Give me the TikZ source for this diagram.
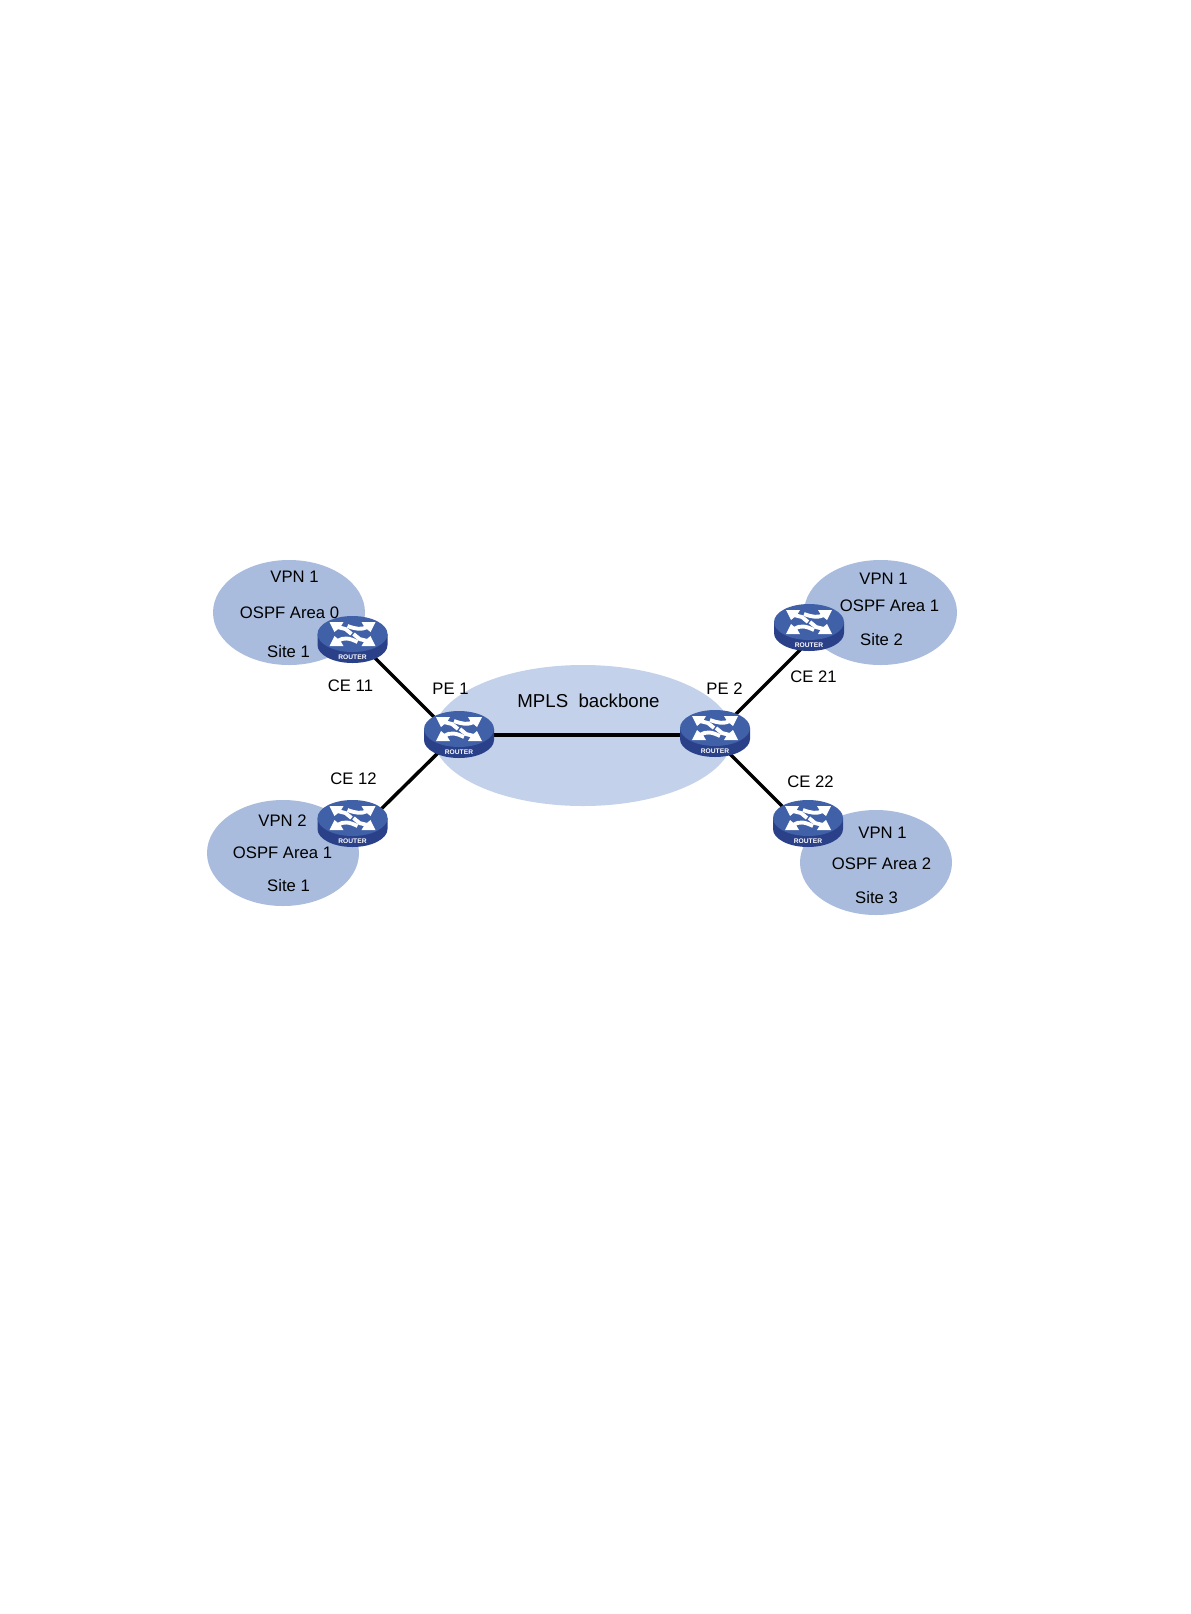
\documentclass[tikz,border=0pt]{standalone}
\usepackage{fontspec}
\setmainfont{Liberation Sans}
\definecolor{sitefill}{HTML}{A9BCDD}
\definecolor{corefill}{HTML}{C4D1EA}
\definecolor{rtop}{HTML}{4060A8}
\definecolor{rside}{HTML}{2A4088}
\tikzset{
  x=0.75pt,y=-0.75pt,
  link/.style={draw=black,line width=2.6pt},
  lab/.style={font=\fontsize{12.5}{14}\selectfont,inner sep=0pt,text=black},
  arrowband/.style={draw=white,line width=2.9pt,line cap=butt,line join=round},
  arrowhead/.style={fill=white},
  pics/router/.style={code={
    \fill[rside] (-35,0) -- (-35,11) arc[start angle=180,end angle=0,x radius=35,y radius=18] -- (35,0) -- cycle;
    \fill[rtop] (0,0) ellipse[x radius=35,y radius=18];
    \draw[arrowband] (-15,-7) -- (-7,-5) -- (-1,0);
    \fill[arrowhead] (-23,-12) -- (-9,-12) -- (-12,-7) -- (-18,-2) -- cycle;
    \draw[arrowband] (15,-7) .. controls (9,-4) and (3,-5) .. (-5,-8);
    \fill[arrowhead] (23,-12) -- (9,-12) -- (12,-7) -- (18,-2) -- cycle;
    \draw[arrowband] (-15,7) .. controls (-9,3) and (-3,4) .. (5,8);
    \fill[arrowhead] (-23,12) -- (-9,12) -- (-12,7) -- (-18,2) -- cycle;
    \draw[arrowband] (15,7) -- (7,5) -- (1,0);
    \fill[arrowhead] (23,12) -- (9,12) -- (12,7) -- (18,2) -- cycle;
    \node[font=\fontsize{5}{6}\selectfont\bfseries,text=white,inner sep=0pt] at (0,23.5) {ROUTER};
  }}
}
\begin{document}
\begin{tikzpicture}
\useasboundingbox (0,0) rectangle (1190,1614);
\fill[white] (0,0) rectangle (1190,1614);
% regions
\fill[sitefill] (289,612.5) ellipse[x radius=76,y radius=52.5];
\fill[sitefill] (880.5,612.5) ellipse[x radius=76.5,y radius=52.5];
\fill[sitefill] (283,853) ellipse[x radius=76,y radius=53];
\fill[sitefill] (876,862.5) ellipse[x radius=76,y radius=52.5];
\fill[corefill] (583,735.5) ellipse[x radius=150,y radius=70.5];
% connector ends, hidden beneath the router icons
\coordinate (pe1w) at (459,735);
\coordinate (pe2e) at (715,735);
\coordinate (pe1nw) at (445,728);
\coordinate (ce11a) at (360,643);
\coordinate (pe1sw) at (445,746);
\coordinate (ce12a) at (365,825);
\coordinate (pe2ne) at (725,725);
\coordinate (ce21a) at (810,640);
\coordinate (pe2se) at (722,746);
\coordinate (ce22a) at (800,824);
% links
\draw[link] (pe1w) -- (pe2e);
\draw[link] (pe1nw) -- (ce11a);
\draw[link] (pe1sw) -- (ce12a);
\draw[link] (pe2ne) -- (ce21a);
\draw[link] (pe2se) -- (ce22a);
% routers
\pic at (459,729) {router};
\pic at (715,728) {router};
\pic at (352.5,634) {router};
\pic at (352.5,818) {router};
\pic at (809,622) {router};
\pic at (808,818) {router};
% labels
\begin{scope}[xshift=0.375pt,yshift=-0.75pt]
\node[lab] (t1) at (294,576) {VPN 1};
\node[lab] (t2) at (289,611.5) {OSPF Area 0};
\node[lab] (t3) at (288,651) {Site 1};
\node[lab] (t4) at (350,684.5) {CE 11};
\node[lab] (t5) at (450,688) {PE 1};
\node[lab,font=\fontsize{14}{16}\selectfont] (t6) at (588,700) {MPLS\ \ backbone};
\node[lab] (t7) at (724,688) {PE 2};
\node[lab] (t8) at (813,676) {CE 21};
\node[lab] (t9) at (883,577.5) {VPN 1};
\node[lab] (t10) at (889,605) {OSPF Area 1};
\node[lab] (t11) at (881,639) {Site 2};
\node[lab] (t12) at (353,778) {CE 12};
\node[lab] (t13) at (282,820) {VPN 2};
\node[lab] (t14) at (282,852) {OSPF Area 1};
\node[lab] (t15) at (288,885) {Site 1};
\node[lab] (t16) at (810,781) {CE 22};
\node[lab] (t17) at (882,832) {VPN 1};
\node[lab] (t18) at (881,862.5) {OSPF Area 2};
\node[lab] (t19) at (876,897) {Site 3};
\end{scope}
\end{tikzpicture}
\end{document}
